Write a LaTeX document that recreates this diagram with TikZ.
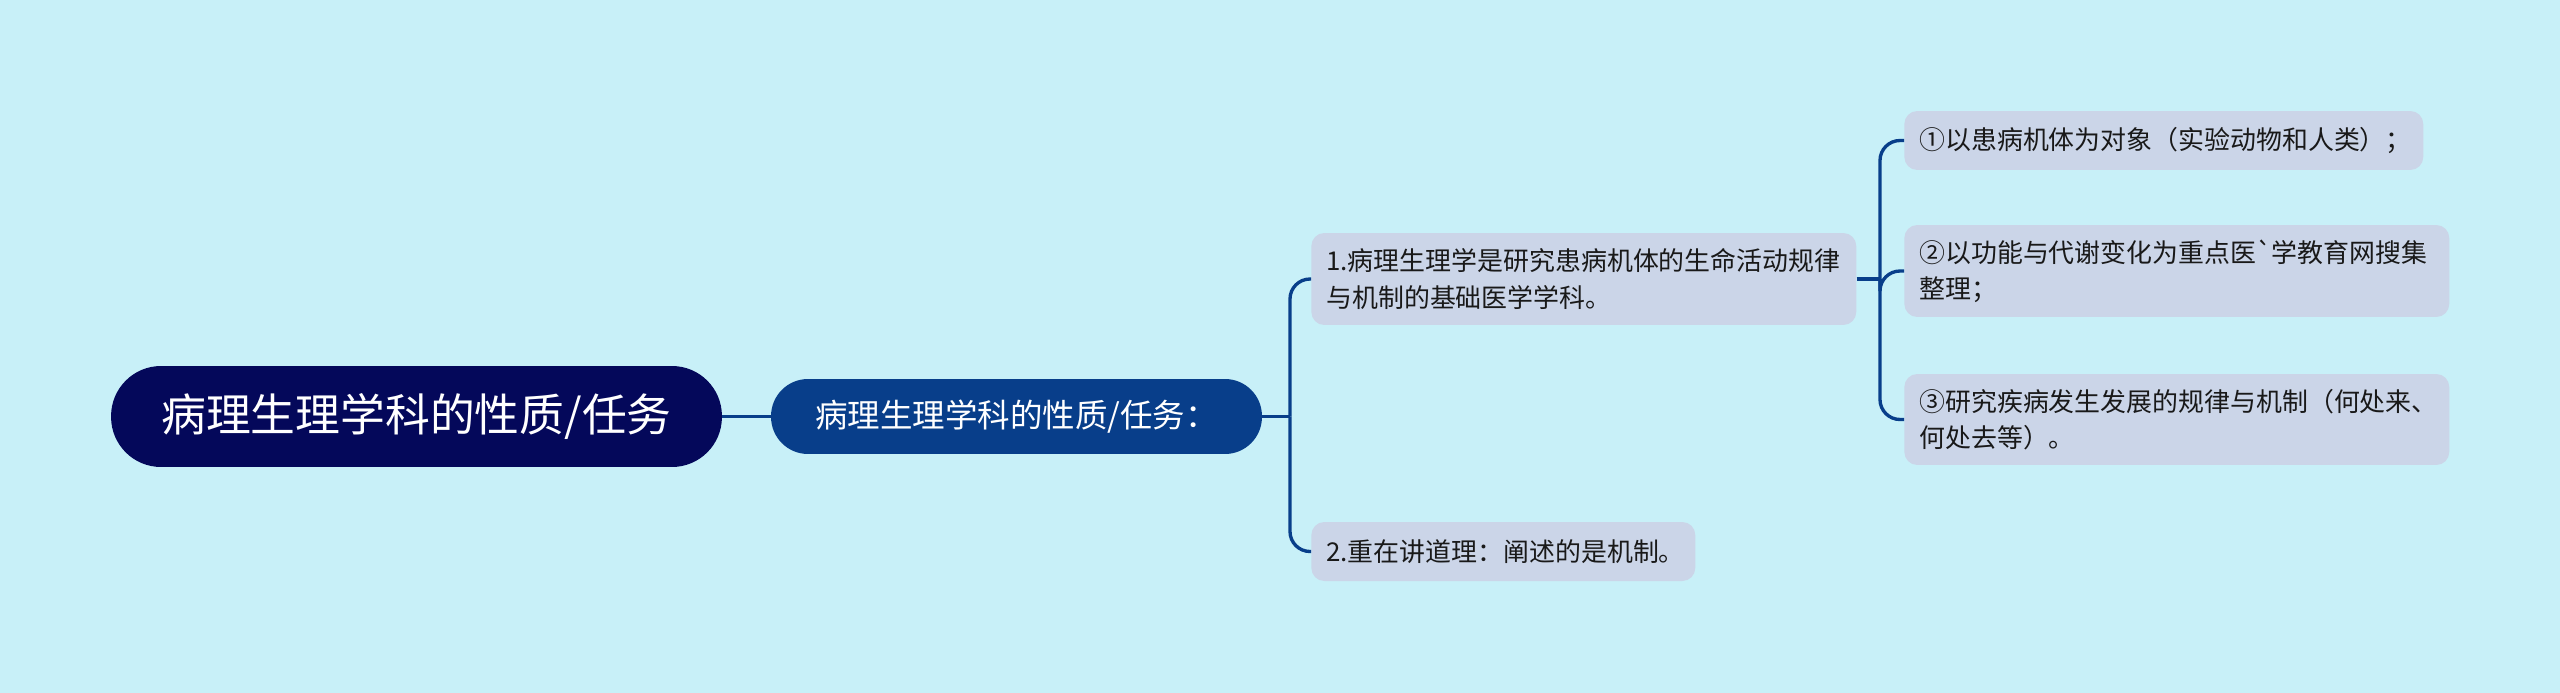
\documentclass[tikz,border=0pt]{standalone}
\usepackage{fontspec}
\setmainfont{Noto Sans CJK SC}
\definecolor{bgCyan}{RGB}{200,240,248}
\definecolor{rootBlue}{RGB}{4,8,90}
\definecolor{mainBlue}{RGB}{8,62,138}
\definecolor{leafGray}{RGB}{203,213,232}
\begin{document}
\begin{tikzpicture}[x=0.02cm,y=-0.02cm,
        rootbox/.style={fill=rootBlue,text=white,rounded corners=1cm,minimum width=12.22cm,minimum height=2.02cm,font=\fontsize{25.5}{30}\selectfont},
        mainbox/.style={fill=mainBlue,text=white,rounded corners=0.74cm,minimum width=9.82cm,minimum height=1.5cm,font=\fontsize{18.5}{22}\selectfont},
        leafbox/.style={fill=leafGray,text=black!90,rounded corners=0.26cm,anchor=west,align=left,inner xsep=0.3cm,inner ysep=0pt,font=\fontsize{14.75}{20.5}\selectfont},
        branch/.style={draw=mainBlue,line width=1.9pt,rounded corners=0.4cm}]
        \fill[bgCyan] (0,0) rectangle (2560,693);

        \node[rootbox] (rootNode) at (416.5,416.5) {病理生理学科的性质/任务};

        \node[mainbox] (mainTopic) at (1016.5,416.5) {病理生理学科的性质/任务：};

        \node[leafbox,text width=10.3cm,minimum height=1.84cm] (point1) at (1311,279) {
            1.病理生理学是研究患病机体的生命活动规律\\
            与机制的基础医学学科。
        };
        \node[leafbox,text width=7.08cm,minimum height=1.18cm] (point2) at (1311,551.5) {2.重在讲道理：阐述的是机制。};

        \node[leafbox,text width=9.78cm,minimum height=1.18cm] (sub1) at (1904,140.5) {①以患病机体为对象（实验动物和人类）；};
        \node[leafbox,text width=10.3cm,minimum height=1.84cm] (sub2) at (1904,271) {
            ②以功能与代谢变化为重点医\textasciigrave 学教育网搜集\\
            整理；
        };
        \node[leafbox,text width=10.3cm,minimum height=1.82cm] (sub3) at (1904,419.5) {
            ③研究疾病发生发展的规律与机制（何处来、\\
            何处去等）。
        };

        \coordinate (fork1) at (1290,416.5);
        \coordinate (fork2) at (1880,279);

        \draw[branch] (rootNode) -- (mainTopic);
        \draw[branch] (mainTopic.east) -- (fork1);
        \draw[branch] (fork1) |- (point1.west);
        \draw[branch] (fork1) |- (point2.west);

        \draw[branch] (point1.east) -- (fork2);
        \draw[branch] (fork2) |- (sub1.west);
        \draw[branch] (fork2) |- (sub2.west);
        \draw[branch] (fork2) |- (sub3.west);
    \end{tikzpicture}
\end{document}
